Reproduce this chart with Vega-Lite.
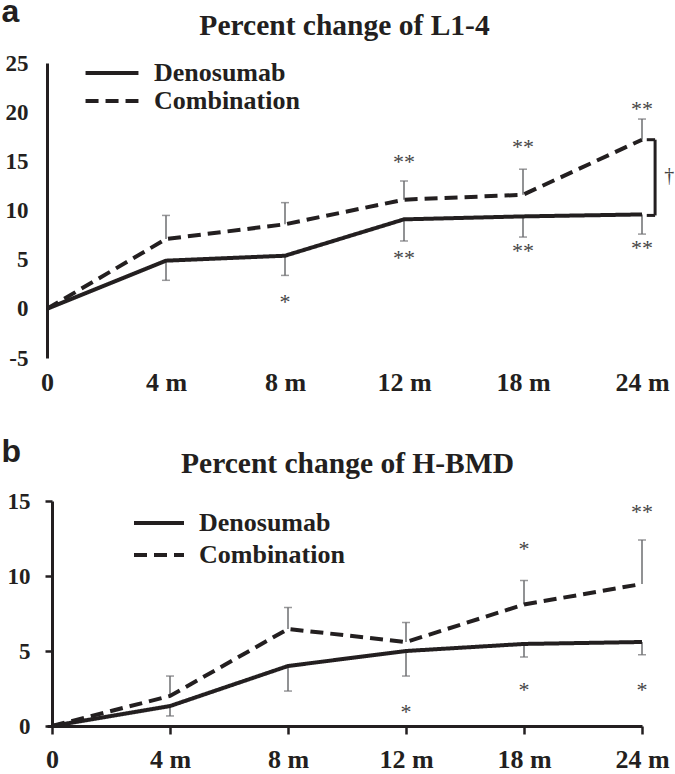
{
  "$schema": "https://vega.github.io/schema/vega-lite/v6.json",
  "padding": {"left": 1, "top": -5, "right": 0, "bottom": 0},
  "background": "white",
  "spacing": 40,
  "config": {
    "font": "Liberation Serif",
    "view": {"stroke": null},
    "axis": {"grid": false, "labelColor": "#231f20", "domainColor": "#231f20", "tickColor": "#231f20", "titleColor": "#231f20"},
    "legend": {"labelColor": "#231f20"}
  },
  "resolve": {"scale": {"strokeDash": "independent"}, "legend": {"strokeDash": "independent"}},
  "datasets": {
    "a": [
      {"t": 0, "group": "Denosumab", "pct": 0, "bar": null},
      {"t": 1, "group": "Denosumab", "pct": 4.9, "bar": 2.9},
      {"t": 2, "group": "Denosumab", "pct": 5.4, "bar": 3.4},
      {"t": 3, "group": "Denosumab", "pct": 9.1, "bar": 6.9},
      {"t": 4, "group": "Denosumab", "pct": 9.4, "bar": 7.3},
      {"t": 5, "group": "Denosumab", "pct": 9.6, "bar": 7.6},
      {"t": 0, "group": "Combination", "pct": 0, "bar": null},
      {"t": 1, "group": "Combination", "pct": 7.1, "bar": 9.5},
      {"t": 2, "group": "Combination", "pct": 8.6, "bar": 10.8},
      {"t": 3, "group": "Combination", "pct": 11.1, "bar": 13.0},
      {"t": 4, "group": "Combination", "pct": 11.6, "bar": 14.2},
      {"t": 5, "group": "Combination", "pct": 17.2, "bar": 19.3}
    ],
    "a_stars": [
      {"t": 2, "y": 0.8, "label": "*"},
      {"t": 3, "y": 15.0, "label": "**"},
      {"t": 3, "y": 5.3, "label": "**"},
      {"t": 4, "y": 16.6, "label": "**"},
      {"t": 4, "y": 6.0, "label": "**"},
      {"t": 5, "y": 20.4, "label": "**"},
      {"t": 5, "y": 6.3, "label": "**"}
    ],
    "a_bracket": [
      {"x": 5.04, "x2": 5.11, "y": 17.2, "y2": 17.2},
      {"x": 5.11, "x2": 5.11, "y": 9.5, "y2": 17.2},
      {"x": 5.04, "x2": 5.11, "y": 9.5, "y2": 9.5}
    ],
    "a_dagger": [{"t": 5.23, "y": 13.5, "label": "†"}],
    "b": [
      {"t": 0, "group": "Denosumab", "pct": 0, "bar": null},
      {"t": 1, "group": "Denosumab", "pct": 1.33, "bar": 0.67},
      {"t": 2, "group": "Denosumab", "pct": 4.0, "bar": 2.33},
      {"t": 3, "group": "Denosumab", "pct": 5.0, "bar": 3.33},
      {"t": 4, "group": "Denosumab", "pct": 5.47, "bar": 4.6},
      {"t": 5, "group": "Denosumab", "pct": 5.6, "bar": 4.75},
      {"t": 0, "group": "Combination", "pct": 0, "bar": null},
      {"t": 1, "group": "Combination", "pct": 2.0, "bar": 3.33},
      {"t": 2, "group": "Combination", "pct": 6.47, "bar": 7.9},
      {"t": 3, "group": "Combination", "pct": 5.6, "bar": 6.9},
      {"t": 4, "group": "Combination", "pct": 8.1, "bar": 9.7},
      {"t": 5, "group": "Combination", "pct": 9.47, "bar": 12.4}
    ],
    "b_stars": [
      {"t": 3, "y": 1.13, "label": "*"},
      {"t": 4, "y": 2.6, "label": "*"},
      {"t": 5, "y": 2.6, "label": "*"},
      {"t": 4, "y": 12.0, "label": "*"},
      {"t": 5, "y": 14.47, "label": "**"}
    ]
  },
  "vconcat": [
    {
      "width": 595,
      "height": 295,
      "layer": [
        {
          "data": {"name": "a"},
          "transform": [{"filter": "datum.bar != null"}],
          "mark": {"type": "rule", "color": "#6d6e71", "strokeWidth": 1.5},
          "encoding": {
            "x": {
              "field": "t", "type": "quantitative",
              "scale": {"domain": [0, 5], "nice": false, "zero": false},
              "axis": {
                "values": [0, 1, 2, 3, 4, 5],
                "labelExpr": "['0','4 m','8 m','12 m','18 m','24 m'][datum.value]",
                "domain": false, "ticks": false, "labelPadding": 11,
                "labelFont": "Liberation Serif", "labelFontSize": 26, "labelFontWeight": "bold",
                "labelFlush": false, "labelOverlap": false,
                "title": "Percent change of L1-4",
                "titleFont": "Liberation Serif", "titleFontSize": 29.5, "titleFontWeight": "bold",
                "titleX": 297, "titleY": -324, "titleAlign": "center", "titleBaseline": "alphabetic"
              }
            },
            "y": {
              "field": "pct", "type": "quantitative",
              "scale": {"domain": [-5, 25], "nice": false, "zero": false},
              "axis": {
                "values": [-5, 0, 5, 10, 15, 20, 25],
                "labelExpr": "datum.value < 0 ? '-' + abs(datum.value) : datum.label",
                "domain": true, "domainWidth": 3, "ticks": false, "labelPadding": 19,
                "labelFont": "Liberation Serif", "labelFontSize": 23, "labelFontWeight": "bold",
                "labelFlush": false, "labelOverlap": false,
                "title": "a",
                "titleFont": "Liberation Sans", "titleFontSize": 32, "titleFontWeight": "bold",
                "titleAngle": 0, "titleX": -46, "titleY": -42, "titleAlign": "left", "titleBaseline": "alphabetic"
              }
            },
            "y2": {"field": "bar"}
          }
        },
        {
          "data": {"name": "a"},
          "transform": [{"filter": "datum.bar != null"}],
          "mark": {"type": "tick", "orient": "horizontal", "color": "#6d6e71", "thickness": 1.5, "size": 8},
          "encoding": {
            "x": {"field": "t", "type": "quantitative"},
            "y": {"field": "bar", "type": "quantitative"}
          }
        },
        {
          "mark": {"type": "rule", "color": "#231f20", "strokeWidth": 3},
          "encoding": {
            "x": {"datum": 0, "type": "quantitative"},
            "x2": {"datum": 5},
            "y": {"datum": 0, "type": "quantitative"}
          }
        },
        {
          "data": {"name": "a"},
          "mark": {"type": "line", "color": "#231f20", "strokeWidth": 4, "strokeCap": "butt", "strokeJoin": "miter"},
          "encoding": {
            "x": {"field": "t", "type": "quantitative"},
            "y": {"field": "pct", "type": "quantitative"},
            "strokeDash": {
              "field": "group", "type": "nominal",
              "scale": {"domain": ["Denosumab", "Combination"], "range": [[1, 0], [13, 7]]},
              "legend": {
                "orient": "none", "legendX": 52, "legendY": -3, "title": null,
                "symbolType": "M-5,0H5", "symbolSize": 112, "symbolStrokeWidth": 4, "symbolStrokeColor": "#231f20",
                "labelFont": "Liberation Serif", "labelFontSize": 26, "labelFontWeight": "bold",
                "labelOffset": 29, "rowPadding": 2
              }
            }
          }
        },
        {
          "data": {"name": "a_stars"},
          "mark": {"type": "text", "font": "Liberation Serif", "fontSize": 22, "fill": "#444444", "baseline": "middle", "dy": 1},
          "encoding": {
            "x": {"field": "t", "type": "quantitative"},
            "y": {"field": "y", "type": "quantitative"},
            "text": {"field": "label"}
          }
        },
        {
          "data": {"name": "a_bracket"},
          "mark": {"type": "rule", "color": "#231f20", "strokeWidth": 3, "clip": false},
          "encoding": {
            "x": {"field": "x", "type": "quantitative"},
            "x2": {"field": "x2"},
            "y": {"field": "y", "type": "quantitative"},
            "y2": {"field": "y2"}
          }
        },
        {
          "data": {"name": "a_dagger"},
          "mark": {"type": "text", "font": "Liberation Serif", "fontSize": 20, "fill": "#444444", "baseline": "middle"},
          "encoding": {
            "x": {"field": "t", "type": "quantitative"},
            "y": {"field": "y", "type": "quantitative"},
            "text": {"field": "label"}
          }
        }
      ]
    },
    {
      "width": 595,
      "height": 225,
      "layer": [
        {
          "data": {"name": "b"},
          "transform": [{"filter": "datum.bar != null"}],
          "mark": {"type": "rule", "color": "#6d6e71", "strokeWidth": 1.5},
          "encoding": {
            "x": {
              "field": "t", "type": "quantitative",
              "scale": {"domain": [-0.0424, 5], "nice": false, "zero": false},
              "axis": {
                "values": [0, 1, 2, 3, 4, 5],
                "labelExpr": "['0','4 m','8 m','12 m','18 m','24 m'][datum.value]",
                "domain": true, "domainWidth": 3, "ticks": true, "tickSize": 8, "tickWidth": 2.5, "labelPadding": 12,
                "labelFont": "Liberation Serif", "labelFontSize": 26, "labelFontWeight": "bold",
                "labelFlush": false, "labelOverlap": false,
                "title": "Percent change of H-BMD",
                "titleFont": "Liberation Serif", "titleFontSize": 29.5, "titleFontWeight": "bold",
                "titleX": 300, "titleY": -254, "titleAlign": "center", "titleBaseline": "alphabetic"
              }
            },
            "y": {
              "field": "pct", "type": "quantitative",
              "scale": {"domain": [0, 15], "nice": false, "zero": false},
              "axis": {
                "values": [0, 5, 10, 15], "offset": -5,
                "domain": true, "domainWidth": 3, "ticks": true, "tickSize": 7, "tickWidth": 2.5, "labelPadding": 15,
                "labelFont": "Liberation Serif", "labelFontSize": 23, "labelFontWeight": "bold",
                "labelFlush": false, "labelOverlap": false,
                "title": "b",
                "titleFont": "Liberation Sans", "titleFontSize": 32, "titleFontWeight": "bold",
                "titleAngle": 0, "titleX": -51, "titleY": -40, "titleAlign": "left", "titleBaseline": "alphabetic"
              }
            },
            "y2": {"field": "bar"}
          }
        },
        {
          "data": {"name": "b"},
          "transform": [{"filter": "datum.bar != null"}],
          "mark": {"type": "tick", "orient": "horizontal", "color": "#6d6e71", "thickness": 1.5, "size": 8},
          "encoding": {
            "x": {"field": "t", "type": "quantitative"},
            "y": {"field": "bar", "type": "quantitative"}
          }
        },
        {
          "data": {"name": "b"},
          "mark": {"type": "line", "color": "#231f20", "strokeWidth": 4, "strokeCap": "butt", "strokeJoin": "miter"},
          "encoding": {
            "x": {"field": "t", "type": "quantitative"},
            "y": {"field": "pct", "type": "quantitative"},
            "strokeDash": {
              "field": "group", "type": "nominal",
              "scale": {"domain": ["Denosumab", "Combination"], "range": [[1, 0], [13, 7]]},
              "legend": {
                "orient": "none", "legendX": 99, "legendY": 9, "title": null,
                "symbolType": "M-5,0H5", "symbolSize": 100, "symbolStrokeWidth": 4, "symbolStrokeColor": "#231f20",
                "labelFont": "Liberation Serif", "labelFontSize": 26, "labelFontWeight": "bold",
                "labelOffset": 27, "rowPadding": 6
              }
            }
          }
        },
        {
          "data": {"name": "b_stars"},
          "mark": {"type": "text", "font": "Liberation Serif", "fontSize": 22, "fill": "#444444", "baseline": "middle", "dy": 3},
          "encoding": {
            "x": {"field": "t", "type": "quantitative"},
            "y": {"field": "y", "type": "quantitative"},
            "text": {"field": "label"}
          }
        }
      ]
    }
  ]
}
